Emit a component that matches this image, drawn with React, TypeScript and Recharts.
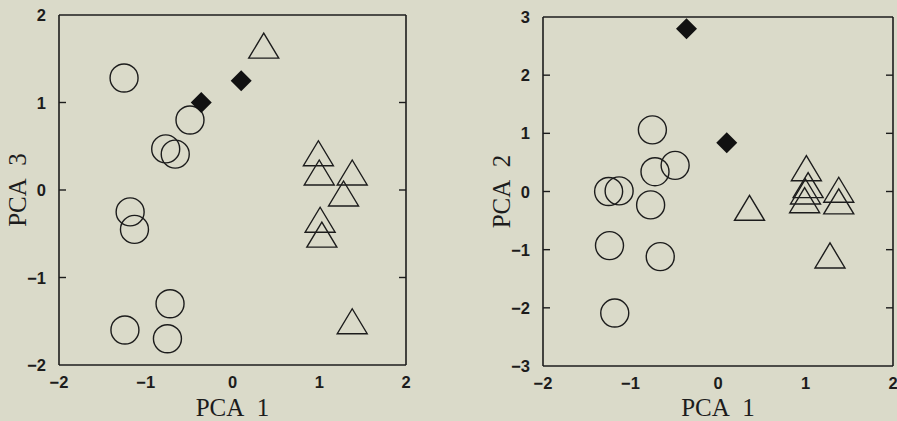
import React from "react";
import { ScatterChart, Scatter, XAxis, YAxis } from "recharts";

// Scores on the first three principal components, one array per group
const circlePca1 = [-1.25, -1.24, -1.18, -1.13, -0.77, -0.75, -0.72, -0.66, -0.49];
const circlePca2 = [0.0, -0.93, -2.09, 0.01, -0.23, 1.06, 0.34, -1.12, 0.45];
const circlePca3 = [1.28, -1.6, -0.25, -0.45, 0.47, -1.7, -1.3, 0.41, 0.8];

const trianglePca1 = [0.36, 0.99, 1.0, 1.01, 1.03, 1.28, 1.38, 1.38];
const trianglePca2 = [-0.28, -0.15, 0.0, 0.4, 0.11, -1.1, 0.03, -0.17];
const trianglePca3 = [1.65, 0.42, 0.2, -0.34, -0.51, -0.04, 0.2, -1.5];

const diamondPca1 = [-0.36, 0.1];
const diamondPca2 = [2.8, 0.84];
const diamondPca3 = [1.0, 1.25];

const pca1Ticks = [-2, -1, 0, 1, 2];
const pca2Ticks = [-3, -2, -1, 0, 1, 2, 3];
const pca3Ticks = [-2, -1, 0, 1, 2];

const INK = "#1c1c1c";
const PAPER = "#dadac9";

const pairs = (xs: number[], ys: number[]) => xs.map((x, i) => ({ x, y: ys[i] }));

const fmt = (v: number) => (v < 0 ? `\u2212${Math.abs(v)}` : `${v}`);

const TICK_FONT = "Liberation Sans, Arial, sans-serif";
const titleStyle = { fill: INK, fontSize: 25, fontFamily: "Liberation Serif, Times New Roman, serif", textAnchor: "middle" as const };

// tick label drawn by hand so the font settings stick
const TickLabel = (p: any) => (
  <text
    x={p.x}
    y={p.y}
    textAnchor={p.textAnchor}
    dominantBaseline={p.verticalAnchor === "start" ? "hanging" : "central"}
    fill={INK}
    fontSize={16.5}
    fontWeight={700}
    fontFamily={TICK_FONT}
  >
    {fmt(p.payload.value)}
  </text>
);

const NoLabel = () => <g />;

const OpenCircle = (p: any) => <circle cx={p.cx} cy={p.cy} r={14} fill="none" stroke={INK} strokeWidth={1.4} />;

const OpenTriangle = (p: any) => (
  <polygon
    points={`${p.cx},${p.cy - 12.5} ${p.cx + 15},${p.cy + 12.5} ${p.cx - 15},${p.cy + 12.5}`}
    fill="none"
    stroke={INK}
    strokeWidth={1.4}
  />
);

const FilledDiamond = (p: any) => (
  <polygon
    points={`${p.cx},${p.cy - 10.5} ${p.cx + 10.5},${p.cy} ${p.cx},${p.cy + 10.5} ${p.cx - 10.5},${p.cy}`}
    fill="#111"
  />
);

interface PanelProps {
  width: number;
  height: number;
  top: number;
  right: number;
  yAxisWidth: number;
  xAxisHeight: number;
  yDomain: [number, number];
  yTicks: number[];
  yTitle: string;
  circles: { x: number; y: number }[];
  triangles: { x: number; y: number }[];
  diamonds: { x: number; y: number }[];
}

function PcaPanel(props: PanelProps) {
  const inner = pca1Ticks.slice(1, -1);
  const innerY = props.yTicks.slice(1, -1);
  const markLine = { stroke: INK, strokeWidth: 1.4 };
  const frame = { stroke: INK, strokeWidth: 1.6 };
  return (
    <ScatterChart
      width={props.width}
      height={props.height}
      margin={{ top: props.top, right: props.right, bottom: 0, left: 0 }}
    >
      <XAxis
        xAxisId="x"
        type="number"
        dataKey="x"
        domain={[-2, 2]}
        allowDataOverflow
        ticks={pca1Ticks}
        tickLine={false}
        tickSize={0}
        tickMargin={11}
        height={props.xAxisHeight}
        axisLine={frame}
        tick={TickLabel}
        label={{ value: "PCA\u00a0\u00a01", position: "insideBottom", offset: 5, style: titleStyle }}
      />
      {/* inward tick marks along the bottom and top edges */}
      <XAxis
        xAxisId="xb"
        type="number"
        orientation="bottom"
        mirror
        height={1}
        domain={[-2, 2]}
        allowDataOverflow
        ticks={inner}
        tick={NoLabel}
        tickSize={7}
        tickLine={markLine}
        axisLine={false}
      />
      <XAxis
        xAxisId="xt"
        type="number"
        orientation="top"
        mirror
        height={1}
        domain={[-2, 2]}
        allowDataOverflow
        ticks={inner}
        tick={NoLabel}
        tickSize={7}
        tickLine={markLine}
        axisLine={frame}
      />
      <YAxis
        yAxisId="y"
        type="number"
        dataKey="y"
        domain={props.yDomain}
        allowDataOverflow
        ticks={props.yTicks}
        tickLine={false}
        tickSize={0}
        tickMargin={13}
        width={props.yAxisWidth}
        axisLine={frame}
        tick={TickLabel}
        label={{ value: props.yTitle, angle: -90, position: "insideLeft", offset: props.yAxisWidth - 42, style: titleStyle }}
      />
      {/* inward tick marks along the left and right edges */}
      <YAxis
        yAxisId="yl"
        type="number"
        orientation="left"
        mirror
        width={1}
        domain={props.yDomain}
        allowDataOverflow
        ticks={innerY}
        tick={NoLabel}
        tickSize={7}
        tickLine={markLine}
        axisLine={false}
      />
      <YAxis
        yAxisId="yr"
        type="number"
        orientation="right"
        mirror
        width={1}
        domain={props.yDomain}
        allowDataOverflow
        ticks={innerY}
        tick={NoLabel}
        tickSize={7}
        tickLine={markLine}
        axisLine={frame}
      />
      <Scatter xAxisId="x" yAxisId="y" data={props.circles} shape={OpenCircle} isAnimationActive={false} />
      <Scatter xAxisId="x" yAxisId="y" data={props.triangles} shape={OpenTriangle} isAnimationActive={false} />
      <Scatter xAxisId="x" yAxisId="y" data={props.diamonds} shape={FilledDiamond} isAnimationActive={false} />
    </ScatterChart>
  );
}

export default function App() {
  return (
    <div style={{ position: "fixed", left: 0, top: 0, width: 897, height: 421, background: PAPER, overflow: "hidden" }}>
      <div style={{ position: "absolute", left: 0, top: 0 }}>
        <PcaPanel
          width={450}
          height={421}
          top={15}
          right={44}
          yAxisWidth={59}
          xAxisHeight={56}
          yDomain={[-2, 2]}
          yTicks={pca3Ticks}
          yTitle={"PCA\u00a0\u00a03"}
          circles={pairs(circlePca1, circlePca3)}
          triangles={pairs(trianglePca1, trianglePca3)}
          diamonds={pairs(diamondPca1, diamondPca3)}
        />
      </div>
      <div style={{ position: "absolute", left: 450, top: 0 }}>
        <PcaPanel
          width={447}
          height={421}
          top={17}
          right={4}
          yAxisWidth={93}
          xAxisHeight={55}
          yDomain={[-3, 3]}
          yTicks={pca2Ticks}
          yTitle={"PCA\u00a0\u00a02"}
          circles={pairs(circlePca1, circlePca2)}
          triangles={pairs(trianglePca1, trianglePca2)}
          diamonds={pairs(diamondPca1, diamondPca2)}
        />
      </div>
    </div>
  );
}
